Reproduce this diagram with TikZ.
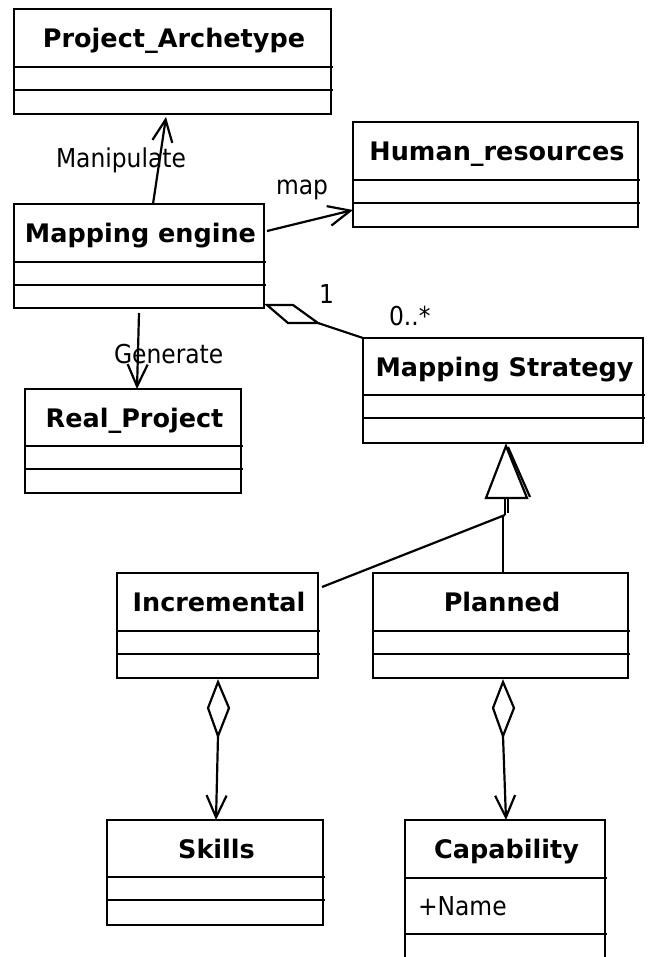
\documentclass[tikz,border=0pt]{standalone}
\usepackage{fontspec}
\setmainfont{DejaVu Sans}
\newfontfamily\lblfont[FakeStretch=0.9]{DejaVu Sans}
\usetikzlibrary{arrows.meta,calc}
% #1 name, #2 x1, #3 y1, #4 x2, #5 y2, #6 first divider, #7 second divider, #8 title
\newcommand{\umlclass}[8]{%
  \node[classbox, minimum width={#4-#2}, minimum height={#5-#3}, anchor=north west] (#1) at (#2,#3) {};
  \draw[divider] (#2,#6) -- ({#4+2},#6);
  \draw[divider] (#2,#7) -- ({#4+2},#7);
  \node[titletext, anchor=base] (#1-title) at ({(#2+#4)/2+1.5},{(#3+#6)/2+9.5}) {#8};
}
\begin{document}
\begin{tikzpicture}[x=1pt,y=-1pt,
  classbox/.style={draw, rectangle, line width=2.2pt, inner sep=0pt, outer sep=0pt},
  divider/.style={line width=2.2pt},
  titletext/.style={font=\fontsize{25.5}{30}\selectfont\bfseries, inner sep=0pt, outer sep=0pt},
  lbl/.style={font=\lblfont\fontsize{26}{30}\selectfont, inner sep=0pt, outer sep=0pt},
  conn/.style={line width=2.2pt, line join=miter},
  openarrow/.style={-{Straight Barb[length=22pt,width=20pt]}},
]
\useasboundingbox (0,0) rectangle (649,957);
\clip (0,0) rectangle (649,957);
\fill[white] (0,0) rectangle (649,957);

\umlclass{pa}{14}{9}{331}{114}{67}{90}{Project\_Archetype}
\umlclass{me}{14}{204}{264}{308}{262}{285}{Mapping engine}
\umlclass{hr}{353}{122}{638}{227}{180}{203}{Human\_resources}
\umlclass{ms}{363}{338}{643}{443}{395}{418}{Mapping Strategy}
\umlclass{rp}{25}{389}{241}{493}{446}{469}{Real\_Project}
\umlclass{inc}{117}{573}{318}{678}{631}{654}{Incremental}
\umlclass{pl}{373}{573}{628}{678}{631}{654}{Planned}
\umlclass{sk}{107}{820}{323}{925}{877}{900}{Skills}
\umlclass{cap}{405}{820}{605}{962}{878}{934}{Capability}

\node[lbl, anchor=base west] (capattr) at (418,915) {+Name};

% Manipulate
\draw[conn,openarrow] ($(me.north west)+(139,0)$) -- ($(pa.south west)+(152,3)$);
\node[lbl, anchor=base west] (lmanip) at (56,168) {Manipulate};

% map
\draw[conn,openarrow] ($(me.north east)+(3,27)$) -- ($(hr.south west)+(0,-17)$);
\node[lbl, anchor=base west] (lmap) at (276,195) {map};

% Generate
\draw[conn,openarrow] ($(me.south west)+(125,5)$) -- ($(rp.north west)+(112,0)$);
\node[lbl, anchor=base west] (lgen) at (114,363) {Generate};

% aggregation Mapping engine -- Mapping Strategy
\coordinate (agtip) at ($(me.south east)+(54,15)$);
\draw[conn] (ms.north west) -- (agtip);
\draw[conn] (agtip) -- ++(-30,0) -- ($(me.south east)+(3,-3)$) -- ++(26,0) -- cycle;
\node[lbl, anchor=base west] (mone) at (319,303) {1};
\node[lbl, anchor=base west] (mmany) at (389,325) {0..*};

% generalization
\coordinate (gtip) at ($(ms.south west)+(143,3)$);
\draw[conn] (gtip) -- ++(-20,52) -- ++(41,0) -- cycle;
\draw[conn] ($(gtip)+(2,1)$) -- ++(22,50);
\coordinate (gjoin) at ($(gtip)+(-1,69)$);
\draw[conn] ($(gtip)+(-1,52)$) -- (gjoin);
\draw[conn] ($(gtip)+(2,52)$) -- ++(0,15);
\draw[conn] (gjoin) -- ($(inc.north east)+(4,14)$);
\draw[conn] ($(pl.north west)+(130,0)$) -- ($(gjoin)+(-2,0)$);

% aggregation Incremental -> Skills
\coordinate (d1) at ($(inc.south west)+(101,4)$);
\draw[conn] (d1) -- ++(-10,26) -- ++(10,28) -- ++(11,-28) -- cycle;
\draw[conn,openarrow] ($(d1)+(0,54)$) -- ($(sk.north west)+(109,0)$);

% aggregation Planned -> Capability
\coordinate (d2) at ($(pl.south west)+(130,4)$);
\draw[conn] (d2) -- ++(-10,26) -- ++(10,28) -- ++(11,-28) -- cycle;
\draw[conn,openarrow] ($(d2)+(0,54)$) -- ($(cap.north west)+(101,0)$);
\end{tikzpicture}
\end{document}
